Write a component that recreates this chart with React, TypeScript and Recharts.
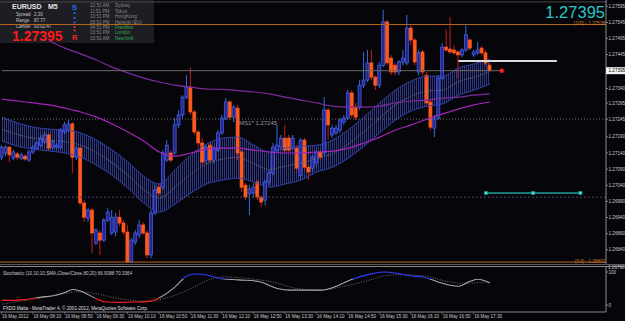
import React from 'react';
import { ComposedChart, Bar, Line, Area, XAxis, YAxis, ReferenceLine, ReferenceDot } from 'recharts';

const FONT = '"Liberation Sans", Arial, sans-serif';
const SLOTS = 154; // 125 bars + chart shift space

// EURUSD M5, 16 May 2012 07:30 .. 17:50
const opens = [
  1.27127, 1.27140, 1.27158, 1.27124, 1.27137, 1.27124, 1.27130, 1.27118, 1.27143, 1.27155,
  1.27164, 1.27174, 1.27196, 1.27158, 1.27158, 1.27158, 1.27205, 1.27211, 1.27230, 1.27127,
  1.27155, 1.26985, 1.26938, 1.26963, 1.26861, 1.26892, 1.26870, 1.26932, 1.26892, 1.26895,
  1.26941, 1.26923, 1.26895, 1.26802, 1.26864, 1.26886, 1.26917, 1.26892, 1.26824, 1.26954,
  1.27034, 1.27034, 1.27118, 1.27140, 1.27140, 1.27227, 1.27258, 1.27313, 1.27344, 1.27267,
  1.27205, 1.27171, 1.27118, 1.27164, 1.27118, 1.27149, 1.27202, 1.27248, 1.27298, 1.27251,
  1.27279, 1.27143, 1.27040, 1.27013, 1.27016, 1.27050, 1.27003, 1.26994, 1.27050, 1.27078,
  1.27149, 1.27158, 1.27186, 1.27186, 1.27155, 1.27155, 1.27071, 1.27180, 1.27096, 1.27093,
  1.27109, 1.27143, 1.27140, 1.27273, 1.27196, 1.27202, 1.27211, 1.27236, 1.27248, 1.27326,
  1.27282, 1.27282, 1.27350, 1.27366, 1.27419, 1.27375, 1.27350, 1.27412, 1.27546, 1.27434,
  1.27412, 1.27391, 1.27422, 1.27419, 1.27527, 1.27490, 1.27391, 1.27453, 1.27381, 1.27298,
  1.27217, 1.27248, 1.27372, 1.27468, 1.27462, 1.27459, 1.27453, 1.27444, 1.27459, 1.27490,
  1.27444, 1.27450, 1.27465, 1.27450, 1.27412,
];
const highs = [
  1.27164, 1.27164, 1.27161, 1.27149, 1.27143, 1.27140, 1.27137, 1.27149, 1.27164, 1.27177,
  1.27196, 1.27205, 1.27202, 1.27180, 1.27171, 1.27217, 1.27236, 1.27242, 1.27236, 1.27161,
  1.27161, 1.26994, 1.26969, 1.26969, 1.26907, 1.26901, 1.26938, 1.26969, 1.26963, 1.26954,
  1.26963, 1.26932, 1.26917, 1.26876, 1.26901, 1.26932, 1.26926, 1.26901, 1.26963, 1.27040,
  1.27047, 1.27149, 1.27180, 1.27149, 1.27248, 1.27273, 1.27319, 1.27381, 1.27406, 1.27273,
  1.27211, 1.27186, 1.27164, 1.27171, 1.27161, 1.27211, 1.27258, 1.27310, 1.27304, 1.27289,
  1.27289, 1.27149, 1.27047, 1.27040, 1.27047, 1.27056, 1.27009, 1.27056, 1.27087, 1.27171,
  1.27227, 1.27196, 1.27227, 1.27196, 1.27196, 1.27164, 1.27186, 1.27186, 1.27102, 1.27134,
  1.27149, 1.27149, 1.27313, 1.27279, 1.27227, 1.27227, 1.27248, 1.27258, 1.27335, 1.27335,
  1.27295, 1.27366, 1.27453, 1.27459, 1.27459, 1.27381, 1.27422, 1.27583, 1.27552, 1.27444,
  1.27419, 1.27428, 1.27459, 1.27568, 1.27536, 1.27496, 1.27459, 1.27459, 1.27391, 1.27304,
  1.27258, 1.27381, 1.27481, 1.27521, 1.27561, 1.27474, 1.27459, 1.27465, 1.27536, 1.27496,
  1.27459, 1.27484, 1.27471, 1.27459, 1.27419,
];
const lows = [
  1.27118, 1.27130, 1.27112, 1.27118, 1.27118, 1.27118, 1.27115, 1.27112, 1.27137, 1.27149,
  1.27158, 1.27168, 1.27149, 1.27152, 1.27152, 1.27152, 1.27199, 1.27205, 1.27078, 1.27118,
  1.26978, 1.26926, 1.26926, 1.26830, 1.26855, 1.26824, 1.26864, 1.26926, 1.26886, 1.26882,
  1.26913, 1.26886, 1.26800, 1.26799, 1.26855, 1.26876, 1.26886, 1.26814, 1.26814, 1.26948,
  1.27006, 1.27025, 1.27112, 1.27112, 1.27134, 1.27217, 1.27248, 1.27307, 1.27258, 1.27196,
  1.27158, 1.27102, 1.27109, 1.27109, 1.27109, 1.27143, 1.27196, 1.27242, 1.27242, 1.27236,
  1.27118, 1.27019, 1.26994, 1.26948, 1.27000, 1.26994, 1.26972, 1.26978, 1.27040, 1.27071,
  1.27143, 1.27149, 1.27143, 1.27143, 1.27149, 1.27081, 1.27062, 1.27087, 1.27056, 1.27081,
  1.27096, 1.27118, 1.27130, 1.27180, 1.27186, 1.27196, 1.27202, 1.27227, 1.27242, 1.27248,
  1.27242, 1.27273, 1.27341, 1.27360, 1.27366, 1.27335, 1.27341, 1.27406, 1.27412, 1.27381,
  1.27381, 1.27381, 1.27412, 1.27412, 1.27474, 1.27412, 1.27381, 1.27381, 1.27285, 1.27211,
  1.27189, 1.27242, 1.27366, 1.27453, 1.27447, 1.27444, 1.27372, 1.27437, 1.27453, 1.27459,
  1.27437, 1.27444, 1.27444, 1.27412, 1.27391,
];
const closes = [
  1.27158, 1.27158, 1.27134, 1.27143, 1.27127, 1.27134, 1.27121, 1.27143, 1.27158, 1.27171,
  1.27186, 1.27196, 1.27155, 1.27174, 1.27164, 1.27211, 1.27227, 1.27230, 1.27127, 1.27155,
  1.26985, 1.26941, 1.26963, 1.26892, 1.26901, 1.26870, 1.26932, 1.26957, 1.26941, 1.26941,
  1.26923, 1.26895, 1.26802, 1.26870, 1.26892, 1.26917, 1.26892, 1.26824, 1.26954, 1.27025,
  1.27016, 1.27140, 1.27164, 1.27118, 1.27227, 1.27258, 1.27313, 1.27344, 1.27267, 1.27205,
  1.27171, 1.27112, 1.27158, 1.27118, 1.27155, 1.27202, 1.27248, 1.27298, 1.27251, 1.27282,
  1.27140, 1.27034, 1.27003, 1.27028, 1.27034, 1.27003, 1.26988, 1.27050, 1.27078, 1.27158,
  1.27164, 1.27186, 1.27149, 1.27149, 1.27186, 1.27093, 1.27180, 1.27096, 1.27081, 1.27127,
  1.27143, 1.27127, 1.27273, 1.27227, 1.27217, 1.27217, 1.27242, 1.27248, 1.27326, 1.27258,
  1.27251, 1.27350, 1.27366, 1.27419, 1.27375, 1.27350, 1.27412, 1.27546, 1.27419, 1.27391,
  1.27391, 1.27422, 1.27434, 1.27527, 1.27490, 1.27422, 1.27450, 1.27391, 1.27295, 1.27220,
  1.27248, 1.27372, 1.27468, 1.27459, 1.27453, 1.27450, 1.27444, 1.27459, 1.27506, 1.27465,
  1.27453, 1.27459, 1.27450, 1.27419, 1.27395,
];
const lastClose = 1.27395;

// envelope ribbon, read every 4 bars
const bandIdx = [0, 4, 8, 12, 16, 20, 24, 28, 32, 36, 40, 44, 48, 52, 56, 60, 64, 68, 72, 76, 80, 84, 88, 92, 96, 100, 104, 108, 112, 116, 120, 124];
const bandUpper = [
  1.27251, 1.27233, 1.27220, 1.27214, 1.27211, 1.27202, 1.27180, 1.27149, 1.27112, 1.27068, 1.27044,
  1.27087, 1.27134, 1.27168, 1.27186, 1.27189, 1.27164, 1.27143, 1.27155, 1.27161, 1.27164, 1.27180,
  1.27211, 1.27251, 1.27295, 1.27335, 1.27363, 1.27378, 1.27378, 1.27403, 1.27416, 1.27431,
];
const bandMid = [
  1.27214, 1.27197, 1.27186, 1.27180, 1.27175, 1.27164, 1.27141, 1.27110, 1.27071, 1.27027, 1.27000,
  1.27034, 1.27075, 1.27106, 1.27121, 1.27126, 1.27107, 1.27089, 1.27099, 1.27109, 1.27123, 1.27138,
  1.27168, 1.27206, 1.27248, 1.27289, 1.27316, 1.27332, 1.27335, 1.27361, 1.27375, 1.27392,
];
const bandLower = [
  1.27177, 1.27161, 1.27152, 1.27146, 1.27140, 1.27127, 1.27102, 1.27071, 1.27031, 1.26985, 1.26957,
  1.26982, 1.27016, 1.27044, 1.27056, 1.27062, 1.27050, 1.27034, 1.27044, 1.27056, 1.27081, 1.27096,
  1.27124, 1.27161, 1.27202, 1.27242, 1.27270, 1.27285, 1.27292, 1.27319, 1.27335, 1.27354,
];

// moving averages
const maFastIdx = [12, 16, 20, 24, 28, 32, 36, 40, 44, 48, 52, 56, 60, 64, 68, 72, 76, 80, 84, 88, 92, 96, 100, 104, 108, 112, 116, 120, 124];
const maFast = [
  1.27487, 1.27465, 1.27447, 1.27428, 1.27406, 1.27388, 1.27372, 1.27360, 1.27350, 1.27344,
  1.27338, 1.27337, 1.27333, 1.27329, 1.27323, 1.27313, 1.27304, 1.27295, 1.27285, 1.27282,
  1.27282, 1.27285, 1.27295, 1.27301, 1.27304, 1.27310, 1.27313, 1.27319, 1.27323,
];
const maSlowIdx = bandIdx;
const maSlow = [
  1.27307, 1.27301, 1.27295, 1.27289, 1.27279, 1.27267, 1.27251, 1.27230, 1.27205, 1.27177, 1.27143,
  1.27130, 1.27140, 1.27152, 1.27155, 1.27155, 1.27149, 1.27143, 1.27140, 1.27140, 1.27143, 1.27146,
  1.27155, 1.27171, 1.27189, 1.27211, 1.27227, 1.27245, 1.27261, 1.27276, 1.27289, 1.27298,
];

// horizontal objects
const fibHigh = 1.27538;
const fibLow = 1.26802;
const ms1Level = 1.27245;
const dottedLevel = 1.27003;
const topLevel = 1.27608;
const whiteLevel = 1.27425;
const whiteIdx = [116, 141];
const cyanLevel = 1.27016;
const cyanIdx = [123, 135, 147];
const bidIdx = [0, 127];

// stochastic (10,10,10)
const stochMainIdx = [0, 3, 6, 10, 13, 16, 18, 20, 24, 26, 30, 34, 38, 40, 44, 47, 49, 52, 55, 60, 65, 70, 73, 81, 85, 89, 93, 97, 100, 104, 107, 111, 116, 119, 121, 124];
const stochMain = [15, 14, 17, 24, 28, 38, 47, 42, 19, 10, 8, 9, 12, 22, 55, 88, 94, 91, 81, 76, 72, 50, 45, 45, 57, 78, 92, 100, 97, 88, 85, 69, 57, 72, 78, 66.9];
const stochSigIdx = [0, 6, 12, 20, 24, 30, 36, 42, 48, 53, 56, 62, 69, 75, 81, 87, 93, 97, 101, 107, 113, 117, 124];
const stochSig = [3, 14, 26, 40, 34, 19, 12, 22, 50, 78, 85, 81, 69, 50, 45, 57, 74, 88, 92, 88, 72, 66, 70.3];

const priceTicks = [1.27595, 1.27545, 1.27495, 1.27445, 1.27395, 1.27340, 1.27295, 1.27245, 1.27190, 1.27140, 1.27090, 1.27040, 1.26990, 1.26940, 1.26890, 1.26840];
const timeTickIdx = [0, 8, 16, 24, 32, 40, 48, 56, 64, 72, 80, 88, 96, 104, 112, 120];
const timeLabels = [
  '16 May 2012', '16 May 08:10', '16 May 08:50', '16 May 09:30', '16 May 10:10', '16 May 10:50',
  '16 May 11:30', '16 May 12:10', '16 May 12:50', '16 May 13:30', '16 May 14:10', '16 May 14:50',
  '16 May 15:30', '16 May 16:10', '16 May 16:50', '16 May 17:30',
];

const infoLabels = ['Spread', 'Range', 'Candle'];
const infoValues = ['2.30', '87.77', '00:02:47'];
const sessionTimes = ['12:51 AM', '11:51 PM', '10:51 PM', '05:51 PM', '04:51 PM', '03:51 PM', '10:51 AM'];
const sessionNames = ['Sydney', 'Tokyo', 'HongKong', 'Helsinki (EU)', 'Frankfurt', 'London', 'NewYork'];
const sessionOpen = [false, false, false, false, true, true, true];

const rows: any[] = [];
for (let i = 0; i < SLOTS; i++) rows.push({ i });
closes.forEach((c, i) => {
  rows[i].ohlc = [lows[i], highs[i]];
  rows[i].o = opens[i];
  rows[i].h = highs[i];
  rows[i].l = lows[i];
  rows[i].c = c;
});
bandIdx.forEach((b, k) => {
  rows[b].band = [bandLower[k], bandUpper[k]];
  rows[b].up = bandUpper[k];
  rows[b].lo = bandLower[k];
  rows[b].mid = bandMid[k];
});
maFastIdx.forEach((b, k) => (rows[b].maFast = maFast[k]));
maSlowIdx.forEach((b, k) => (rows[b].maSlow = maSlow[k]));
whiteIdx.forEach((b) => (rows[b].white = whiteLevel));
cyanIdx.forEach((b) => (rows[b].cyan = cyanLevel));
bidIdx.forEach((b) => (rows[b].bid = lastClose));

const stochRows: any[] = [];
for (let i = 0; i < SLOTS; i++) stochRows.push({ i });
stochMainIdx.forEach((b, k) => (stochRows[b].main = stochMain[k]));
stochSigIdx.forEach((b, k) => (stochRows[b].sig = stochSig[k]));

function Candle(props: any) {
  const { x, y, width, height, payload } = props;
  if (!payload || payload.c == null) return <g />;
  const top = Math.min(y, y + height);
  const h = Math.abs(height);
  const k = payload.h > payload.l ? h / (payload.h - payload.l) : 0;
  const py = (p: number) => top + (payload.h - p) * k;
  const bull = payload.c >= payload.o;
  const bTop = py(Math.max(payload.o, payload.c));
  const bBot = py(Math.min(payload.o, payload.c));
  const cx = x + width / 2;
  return (
    <g>
      <line x1={cx} x2={cx} y1={top} y2={top + h} stroke={bull ? '#2f6fe0' : '#c81c1c'} strokeWidth={1} />
      <rect
        x={x}
        y={bTop}
        width={width}
        height={Math.max(bBot - bTop, 0.8)}
        fill={bull ? '#26268a' : '#ff5a1c'}
        stroke={bull ? '#4a62f6' : '#ff5a1c'}
        strokeWidth={0.7}
      />
    </g>
  );
}

const PriceTick = (props: any) => {
  const { x, y, payload } = props;
  const cur = payload.value === lastClose;
  return (
    <g>
      {cur && <rect x={x - 2} y={y - 3.5} width={21} height={7} fill="#f2f2f2" />}
      <text x={x + 0.5} y={y + 1.6} fontSize={4.6} fontFamily={FONT} fill={cur ? '#000' : '#c8c8c8'}>
        {payload.value.toFixed(5)}
      </text>
    </g>
  );
};

const TimeTick = (props: any) => {
  const { x, y, payload } = props;
  const k = timeTickIdx.indexOf(payload.value);
  return (
    <g>
      <line x1={x - 0.5} x2={x - 0.5} y1={y} y2={y + 2.5} stroke="#8a8a8a" strokeWidth={0.6} />
      <text x={x} y={y + 5.8} fontSize={4.6} fontFamily={FONT} fill="#c8c8c8">
        {timeLabels[k]}
      </text>
    </g>
  );
};

const StochTick = (props: any) => {
  const { x, y, payload } = props;
  return (
    <text x={x + 0.5} y={y + 1.6} fontSize={4.6} fontFamily={FONT} fill="#c8c8c8">
      {payload.value}
    </text>
  );
};

const fibLabel = (text: string) => (p: any) => {
  const vb = p.viewBox || {};
  return (
    <text x={vb.x + vb.width - 1} y={vb.y + 0.8} textAnchor="end" fontSize={4.6} fontFamily={FONT} fill="#d07a28">
      {text}
    </text>
  );
};

const ms1Label = (p: any) => {
  const vb = p.viewBox || {};
  return (
    <text x={vb.x + 1} y={vb.y + 5.5} fontSize={6} fontFamily={FONT} fill="#9a9a9a">
      MS1* 1.27245
    </text>
  );
};

const SquareDot = (p: any) => {
  if (p.value == null || p.cy == null) return <g key={p.key} />;
  return <rect key={p.key} x={p.cx - 1.6} y={p.cy - 1.6} width={3.2} height={3.2} fill="#48e0d8" stroke="#1a8a86" strokeWidth={0.5} />;
};

const BidDot = (p: any) => {
  if (p.value == null || p.cy == null || p.index !== bidIdx[1]) return <g key={p.key} />;
  return <circle key={p.key} cx={p.cx} cy={p.cy} r={2.2} fill="#ff2020" />;
};

export default function App() {
  return (
    <div style={{ position: 'absolute', left: 0, top: 0, width: 625, height: 321, background: '#06060a', overflow: 'hidden' }}>
      {/* info panel (under the chart) */}
      <svg width={625} height={321} style={{ position: 'absolute', left: 0, top: 0 }}>
        <rect x={0} y={0} width={154} height={43} fill="#1d1d24" />
        <text x={12} y={9} fontSize={7} fontWeight="bold" fontFamily={FONT} fill="#e6e6e6">EURUSD</text>
        <text x={48} y={9} fontSize={7} fontWeight="bold" fontFamily={FONT} fill="#e6e6e6">M5</text>
        {infoLabels.map((t, k) => (
          <g key={t}>
            <text x={16} y={15.5 + k * 6} fontSize={4.5} fontFamily={FONT} fill="#c8c8c8">{t}</text>
            <text x={34} y={15.5 + k * 6} fontSize={4.5} fontFamily={FONT} fill="#c8c8c8">{infoValues[k]}</text>
          </g>
        ))}
        <text x={12} y={41} fontSize={14} fontWeight="bold" fontFamily={FONT} fill="#ff1a1a">1.27395</text>
        <text x={72} y={9.5} fontSize={7.5} fontWeight="bold" fontFamily={FONT} fill="#2a6cff">S</text>
        <circle cx={74.5} cy={13} r={1.1} fill="#2a6cff" />
        <circle cx={74.5} cy={18} r={1.1} fill="#2a6cff" />
        <circle cx={74.5} cy={22.5} r={1.1} fill="#2a6cff" />
        <circle cx={74.5} cy={27} r={1.1} fill="#ff2a2a" />
        <circle cx={74.5} cy={30.5} r={1.1} fill="#ff2a2a" />
        <text x={72} y={40} fontSize={7.5} fontWeight="bold" fontFamily={FONT} fill="#ff2020">R</text>
        {sessionTimes.map((t, k) => (
          <g key={sessionNames[k]}>
            <text x={90} y={7.4 + k * 5.4} fontSize={4.6} fontFamily={FONT} fill="#8a8a8a">{t}</text>
            <text x={115} y={7.4 + k * 5.4} fontSize={4.6} fontFamily={FONT} fill={sessionOpen[k] ? '#2fb04f' : '#8a8a8a'}>
              {sessionNames[k]}
            </text>
          </g>
        ))}
      </svg>

      {/* main price window */}
      <div style={{ position: 'absolute', left: 0, top: 0 }}>
        <ComposedChart width={625} height={264} data={rows} margin={{ top: 0, right: 0, bottom: 0, left: 0 }}>
          <defs>
            <pattern id="bandHatch" x="0" y="0" width="2" height="2" patternUnits="userSpaceOnUse">
              <rect x="0" y="0" width="1" height="2" fill="#2b3688" />
            </pattern>
          </defs>
          <XAxis dataKey="i" type="category" hide />
          <YAxis
            orientation="right"
            width={19}
            domain={[1.26796, 1.27614]}
            allowDataOverflow
            ticks={priceTicks}
            interval={0}
            tick={PriceTick}
            tickSize={2}
            tickMargin={0}
            axisLine={{ stroke: '#8a8a8a' }}
            tickLine={{ stroke: '#8a8a8a' }}
          />
          <ReferenceLine y={topLevel} stroke="#4a4a4a" />
          <ReferenceLine y={fibHigh} stroke="#b5651d" label={fibLabel('(100) - 1.27538')} />
          <ReferenceLine y={fibLow} stroke="#b5651d" label={fibLabel('(0.0) - 1.26802')} />
          <ReferenceLine y={ms1Level} stroke="#6e6e6e" strokeDasharray="1 2" />
          <ReferenceLine y={dottedLevel} stroke="#4e3f6e" strokeDasharray="2 2" />
          <ReferenceDot x={60} y={ms1Level} r={0.01} fill="none" stroke="none" label={ms1Label} />
          <Area dataKey="band" type="monotone" connectNulls fill="url(#bandHatch)" fillOpacity={1} stroke="none" dot={false} activeDot={false} isAnimationActive={false} />
          <Line dataKey="mid" type="monotone" connectNulls stroke="#707080" strokeWidth={0.8} strokeDasharray="1.5 1" dot={false} activeDot={false} isAnimationActive={false} />
          <Line dataKey="up" type="monotone" connectNulls stroke="#3446b4" strokeWidth={0.9} dot={false} activeDot={false} isAnimationActive={false} />
          <Line dataKey="lo" type="monotone" connectNulls stroke="#3446b4" strokeWidth={0.9} dot={false} activeDot={false} isAnimationActive={false} />
          <Line dataKey="maFast" type="monotone" connectNulls stroke="#7d2a9e" strokeWidth={1.2} dot={false} activeDot={false} isAnimationActive={false} />
          <Line dataKey="maSlow" type="monotone" connectNulls stroke="#a524b8" strokeWidth={1.2} dot={false} activeDot={false} isAnimationActive={false} />
          <Line dataKey="bid" type="linear" connectNulls stroke="#6a6a6a" strokeWidth={1} dot={BidDot} activeDot={false} isAnimationActive={false} />
          <Bar dataKey="ohlc" barSize={3} shape={(p: any) => <Candle {...p} />} isAnimationActive={false} />
          <Line dataKey="white" type="linear" connectNulls stroke="#dcdcdc" strokeWidth={2} dot={false} activeDot={false} isAnimationActive={false} />
          <Line dataKey="cyan" type="linear" connectNulls stroke="#1e9e9a" strokeWidth={1.4} dot={SquareDot} activeDot={false} isAnimationActive={false} />
        </ComposedChart>
      </div>

      {/* window separators */}
      <div style={{ position: 'absolute', left: 0, top: 264, width: 625, height: 1, background: '#5a5a5a' }} />
      <div style={{ position: 'absolute', left: 0, top: 266, width: 625, height: 1, background: '#8a8a8a' }} />

      {/* stochastic window */}
      <div style={{ position: 'absolute', left: 0, top: 266 }}>
        <ComposedChart width={625} height={56} data={stochRows} margin={{ top: 1, right: 0, bottom: 0, left: 0 }}>
          <defs>
            <linearGradient id="stochGrad" x1="0" y1="12.6" x2="0" y2="32.4" gradientUnits="userSpaceOnUse">
              <stop offset="0" stopColor="#2a3cff" />
              <stop offset="0.001" stopColor="#a8a8a8" />
              <stop offset="0.999" stopColor="#a8a8a8" />
              <stop offset="1" stopColor="#ff2020" />
            </linearGradient>
          </defs>
          <XAxis
            dataKey="i"
            type="number"
            domain={[-0.5, SLOTS - 0.5]}
            allowDataOverflow
            ticks={timeTickIdx}
            interval={0}
            tick={TimeTick}
            tickSize={0}
            tickMargin={0}
            height={10}
            axisLine={{ stroke: '#8a8a8a' }}
            tickLine={false}
          />
          <YAxis
            orientation="right"
            width={19}
            domain={[-21, 115]}
            allowDataOverflow
            ticks={[0, 100]}
            interval={0}
            tick={StochTick}
            tickSize={2}
            tickMargin={0}
            axisLine={{ stroke: '#8a8a8a' }}
            tickLine={{ stroke: '#8a8a8a' }}
          />
          <Line dataKey="sig" type="monotone" connectNulls stroke="#8c8c8c" strokeWidth={0.8} strokeDasharray="1 1.5" dot={false} activeDot={false} isAnimationActive={false} />
          <Line dataKey="main" type="monotone" connectNulls stroke="url(#stochGrad)" strokeWidth={1.1} dot={false} activeDot={false} isAnimationActive={false} />
        </ComposedChart>
      </div>

      {/* texts drawn on top */}
      <svg width={625} height={321} style={{ position: 'absolute', left: 0, top: 0, pointerEvents: 'none' }}>
        <text x={605} y={17.5} textAnchor="end" fontSize={16.5} fontFamily={FONT} fill="#26c6c6">1.27395</text>
        <text x={3} y={274.5} fontSize={4.6} fontFamily={FONT} fill="#c8c8c8">
          Stochastic (10,10,10,SMA,Close/Close,80,20) 66.9088 70.3364
        </text>
        <text x={3} y={310} fontSize={4.6} fontFamily={FONT} fill="#e0e0e0">
          FXDD Malta - MetaTrader 4, © 2001-2012, MetaQuotes Software Corp.
        </text>
        <text x={608} y={268.5} fontSize={4.6} fontFamily={FONT} fill="#c8c8c8">1.26790</text>
      </svg>
    </div>
  );
}
